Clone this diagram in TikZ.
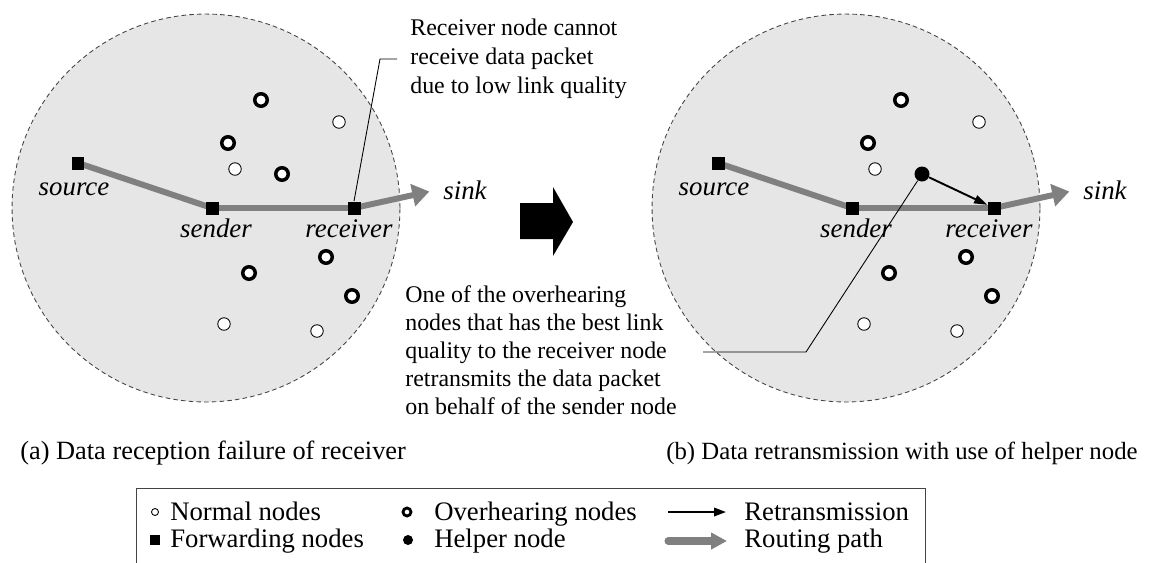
\documentclass[tikz,border=0pt]{standalone}
\usepackage{fontspec}
\setmainfont{Liberation Serif}
\usetikzlibrary{arrows.meta,backgrounds}
\definecolor{areagray}{HTML}{E6E6E6}
\definecolor{routegray}{HTML}{808080}
\definecolor{rimgray}{HTML}{444444}

\begin{document}
\begin{tikzpicture}[x=0.02cm, y=-0.02cm,
    normalnode/.style = {draw, circle, fill=white, line width=0.5pt, minimum size=0.25cm, inner sep=0},
    overnode/.style = {draw, circle, fill=white, line width=2pt, minimum size=0.25cm, inner sep=0},
    fwdnode/.style = {fill=black, minimum size=0.26cm, inner sep=0},
    helpernode/.style = {fill=black, circle, minimum size=0.3cm, inner sep=0},
    lbl/.style = {font=\fontsize{15.3}{18}\selectfont\itshape, anchor=base},
    note/.style = {font=\fontsize{13.6}{16.6}\selectfont, align=left, inner sep=0},
    captext/.style = {font=\fontsize{14.6}{17}\selectfont, anchor=base west, inner sep=0},
    leg/.style = {font=\fontsize{15.2}{17}\selectfont, anchor=base west, inner sep=0},
    route/.style = {routegray, line width=3.4pt, -{Triangle[length=0.34cm,width=0.44cm]}},
    retx/.style = {line width=1.1pt, -{Triangle[length=0.26cm,width=0.17cm]}},
    callout/.style = {line width=0.5pt}]

\useasboundingbox (0,0) rectangle (1150,562);

% the two panels, (a) on the left and (b) on the right
\foreach \p/\dx in {a/0,b/640} {
  \begin{scope}[shift={(\dx,0)}]
    \begin{scope}[on background layer]
      \draw[rimgray, line width=0.5pt, dash pattern=on 2.6pt off 1.8pt, fill=areagray] (206,208) circle[radius=3.88cm];
    \end{scope}
    \node[fwdnode] (src\p) at (78,163) {};
    \node[fwdnode] (snd\p) at (212,208) {};
    \node[fwdnode] (rcv\p) at (354,208) {};
    \node[lbl] (srcl\p) at (74,195) {source};
    \node[lbl] (sndl\p) at (216,237) {sender};
    \node[lbl] (rcvl\p) at (349,237) {receiver};
    \node[lbl] (sink\p) at (465,199) {sink};
    \foreach \x/\y [count=\i] in {261/100,228/143,326/257,249/273,352/296}
      \node[overnode] (ov\p\i) at (\x,\y) {};
    \foreach \x/\y [count=\i] in {339/122,235/169,224/324,317/331}
      \node[normalnode] (nm\p\i) at (\x,\y) {};
    \begin{scope}[on background layer]
      \draw[route, shorten >=0.16cm] (src\p.center) -- (snd\p.center) -- (rcv\p.center) -- (sink\p.west);
    \end{scope}
  \end{scope}
}

% overhearing node in (a), helper node in (b)
\node[overnode] (ova6) at (282,174) {};
\node[helpernode] (hlpb) at (922,174) {};
\draw[retx] (hlpb) -- (rcvb);

% callouts
\node[note, anchor=west, inner xsep=0.26cm] (noteA) at (397,59) {Receiver node cannot\\receive data packet\\due to low link quality};
\coordinate (kneeA) at (380,0);
\draw[callout] (rcva.north) -- (kneeA |- noteA.west) -- (noteA.west);

\node[note, anchor=west, font=\fontsize{13.6}{15.9}\selectfont] (noteB) at (405,350) {One of the overhearing\\nodes that has the best link\\quality to the receiver node\\retransmits the data packet\\on behalf of the sender node};
\coordinate (kneeB) at (806,352);
\coordinate (endB) at (703,352);
\draw[callout] (hlpb) -- (kneeB) -- (endB);

% big arrow between the panels
\fill (520,203) -- (553,203) -- (553,187) -- (573,222) -- (553,256) -- (553,239) -- (520,239) -- cycle;

% captions
\node[captext, font=\fontsize{15}{17}\selectfont] (capa) at (20,459) {(a) Data reception failure of receiver};
\node[captext, font=\fontsize{14.1}{17}\selectfont] (capb) at (666,459) {(b) Data retransmission with use of helper node};

% legend
\draw[rimgray, line width=0.5pt] (136,570) -- (136,488) -- (925,488) -- (925,570);
\node[normalnode, minimum size=0.14cm] (lgnm) at (155,512) {};
\node[fwdnode, minimum size=0.2cm] (lgfw) at (155,540) {};
\node[overnode, minimum size=0.16cm, line width=1.6pt] (lgov) at (407,512) {};
\node[helpernode, minimum size=0.2cm] (lghl) at (408,540) {};
\coordinate (lgrtS) at (668,512);
\coordinate (lgrtE) at (726,512);
\draw[retx, -{Triangle[length=0.24cm,width=0.17cm]}] (lgrtS) -- (lgrtE);
\coordinate (lgroS) at (668,541);
\coordinate (lgroE) at (727,541);
\draw[route, line width=4pt, line cap=round, -{Triangle[length=0.32cm,width=0.32cm]}] (lgroS) -- (lgroE);
\node[leg] (lgnmt) at (170,520) {Normal nodes};
\node[leg] (lgfwt) at (170,547) {Forwarding nodes};
\node[leg] (lgovt) at (434,520) {Overhearing nodes};
\node[leg] (lghlt) at (434,547) {Helper node};
\node[leg] (lgrtt) at (744,520) {Retransmission};
\node[leg] (lgrot) at (744,547) {Routing path};
\end{tikzpicture}
\end{document}
